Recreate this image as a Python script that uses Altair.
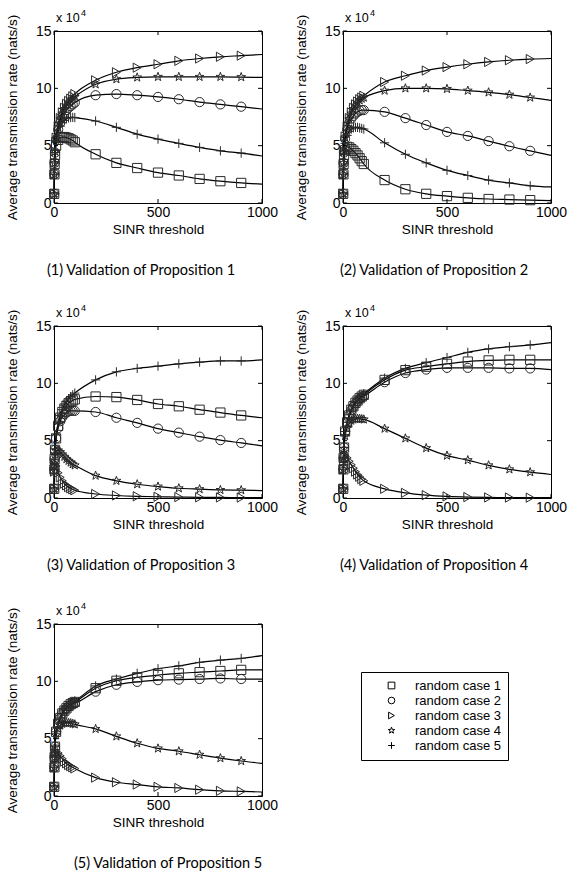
import altair as alt
import pandas as pd

# ---------------- data (values in units of 10^4 nats/s) ----------------
X = [1, 2, 3, 5, 10, 20, 30, 40, 50, 60, 70, 80, 90, 100,
     200, 300, 400, 500, 600, 700, 800, 900, 1000]

P1_C1 = [0.8, 2.5, 3.4, 4.2, 5.0, 5.5, 5.7, 5.75, 5.75, 5.7, 5.65, 5.55, 5.45, 5.3, 4.25, 3.5, 3.05, 2.65, 2.4, 2.1, 1.9, 1.75, 1.65]
P1_C2 = [0.8, 2.5, 3.5, 4.4, 5.5, 6.4, 7.0, 7.5, 7.85, 8.1, 8.3, 8.45, 8.6, 8.75, 9.4, 9.5, 9.4, 9.25, 9.05, 8.8, 8.6, 8.4, 8.2]
P1_C3 = [0.8, 2.5, 3.5, 4.5, 5.7, 6.7, 7.4, 7.9, 8.3, 8.65, 8.9, 9.1, 9.3, 9.5, 10.7, 11.4, 11.8, 12.1, 12.4, 12.6, 12.75, 12.85, 12.95]
P1_C4 = [0.8, 2.5, 3.5, 4.5, 5.6, 6.6, 7.3, 7.8, 8.2, 8.5, 8.75, 8.95, 9.1, 9.25, 10.35, 10.8, 10.95, 11.0, 11.0, 11.0, 11.0, 10.98, 10.95]
P1_C5 = [0.8, 2.5, 3.5, 4.4, 5.4, 6.2, 6.7, 7.0, 7.2, 7.35, 7.42, 7.46, 7.47, 7.45, 7.15, 6.6, 6.0, 5.57, 5.2, 4.85, 4.55, 4.35, 4.1]

P2_C1 = [0.8, 2.5, 3.4, 4.2, 4.6, 4.9, 4.85, 4.7, 4.55, 4.35, 4.15, 3.9, 3.65, 3.4, 2.0, 1.2, 0.8, 0.6, 0.45, 0.35, 0.3, 0.25, 0.2]
P2_C2 = [0.8, 2.5, 3.5, 4.4, 5.6, 6.4, 6.95, 7.35, 7.6, 7.8, 7.95, 8.05, 8.1, 8.1, 7.95, 7.4, 6.8, 6.2, 5.85, 5.4, 4.95, 4.55, 4.15]
P2_C3 = [0.8, 2.5, 3.5, 4.5, 5.8, 6.7, 7.4, 7.9, 8.3, 8.6, 8.85, 9.05, 9.2, 9.35, 10.55, 11.1, 11.55, 11.85, 12.1, 12.3, 12.45, 12.55, 12.6]
P2_C4 = [0.8, 2.5, 3.5, 4.5, 5.7, 6.6, 7.3, 7.8, 8.2, 8.5, 8.75, 8.95, 9.1, 9.2, 9.8, 10.0, 10.0, 9.95, 9.8, 9.65, 9.45, 9.2, 8.95]
P2_C5 = [0.8, 2.5, 3.4, 4.3, 5.2, 5.9, 6.25, 6.45, 6.55, 6.6, 6.6, 6.55, 6.5, 6.45, 5.25, 4.25, 3.5, 2.85, 2.4, 2.0, 1.75, 1.5, 1.4]

P3_C1 = [0.8, 2.5, 3.4, 4.2, 5.2, 6.3, 7.0, 7.5, 7.8, 8.05, 8.25, 8.4, 8.5, 8.6, 8.85, 8.8, 8.55, 8.2, 8.0, 7.7, 7.45, 7.2, 7.0]
P3_C2 = [0.8, 2.5, 3.4, 4.2, 5.2, 6.1, 6.7, 7.05, 7.3, 7.45, 7.55, 7.6, 7.6, 7.6, 7.5, 7.0, 6.55, 6.05, 5.7, 5.35, 5.05, 4.8, 4.55]
P3_C3 = [0.8, 2.3, 2.8, 3.0, 2.8, 2.2, 1.8, 1.5, 1.25, 1.1, 0.95, 0.85, 0.75, 0.68, 0.35, 0.22, 0.15, 0.11, 0.08, 0.06, 0.05, 0.04, 0.04]
P3_C4 = [0.8, 2.4, 3.2, 3.8, 4.1, 4.15, 4.0, 3.8, 3.6, 3.4, 3.25, 3.1, 2.95, 2.85, 1.95, 1.5, 1.2, 1.0, 0.85, 0.77, 0.7, 0.68, 0.65]
P3_C5 = [0.8, 2.5, 3.4, 4.3, 5.5, 6.5, 7.2, 7.7, 8.1, 8.4, 8.65, 8.85, 9.0, 9.15, 10.3, 11.0, 11.3, 11.5, 11.7, 11.85, 11.95, 11.95, 12.05]

P4_C1 = [0.8, 2.5, 3.5, 4.4, 5.8, 6.6, 7.2, 7.7, 8.0, 8.3, 8.5, 8.7, 8.85, 9.0, 10.3, 11.15, 11.45, 11.7, 11.9, 12.0, 12.05, 12.05, 12.05]
P4_C2 = [0.8, 2.5, 3.5, 4.4, 5.8, 6.6, 7.2, 7.65, 7.95, 8.25, 8.45, 8.65, 8.8, 8.9, 10.1, 10.9, 11.2, 11.35, 11.35, 11.35, 11.3, 11.3, 11.2]
P4_C3 = [0.8, 2.5, 3.2, 3.6, 3.7, 3.5, 3.2, 2.9, 2.6, 2.3, 2.05, 1.85, 1.65, 1.5, 0.8, 0.45, 0.25, 0.14, 0.08, 0.05, 0.04, 0.03, 0.03]
P4_C4 = [0.8, 2.5, 3.4, 4.3, 5.4, 6.1, 6.5, 6.75, 6.85, 6.9, 6.92, 6.9, 6.88, 6.85, 6.05, 5.2, 4.35, 3.7, 3.3, 2.85, 2.5, 2.25, 2.05]
P4_C5 = [0.8, 2.5, 3.5, 4.4, 5.8, 6.6, 7.25, 7.75, 8.05, 8.35, 8.55, 8.75, 8.95, 9.1, 10.45, 11.3, 11.8, 12.25, 12.7, 13.0, 13.2, 13.35, 13.55]

P5_C1 = [0.8, 2.5, 3.4, 4.3, 5.6, 6.3, 6.8, 7.2, 7.45, 7.65, 7.85, 8.0, 8.1, 8.2, 9.4, 10.05, 10.35, 10.55, 10.7, 10.8, 10.9, 11.0, 11.0]
P5_C2 = [0.8, 2.5, 3.4, 4.3, 5.6, 6.3, 6.8, 7.2, 7.45, 7.65, 7.8, 7.95, 8.05, 8.1, 9.1, 9.7, 9.95, 10.1, 10.15, 10.2, 10.25, 10.2, 10.2]
P5_C3 = [0.8, 2.5, 3.3, 3.7, 3.85, 3.75, 3.5, 3.25, 3.0, 2.85, 2.7, 2.6, 2.5, 2.4, 1.6, 1.2, 1.0, 0.8, 0.7, 0.55, 0.45, 0.4, 0.35]
P5_C4 = [0.8, 2.5, 3.4, 4.3, 5.3, 5.9, 6.15, 6.3, 6.35, 6.38, 6.38, 6.35, 6.3, 6.25, 5.85, 5.2, 4.6, 4.15, 3.9, 3.6, 3.3, 3.05, 2.85]
P5_C5 = [0.8, 2.5, 3.4, 4.3, 5.6, 6.3, 6.8, 7.2, 7.5, 7.7, 7.9, 8.05, 8.2, 8.3, 9.6, 10.2, 10.7, 11.1, 11.35, 11.65, 11.85, 12.0, 12.25]

CASES = ["random case 1", "random case 2", "random case 3", "random case 4", "random case 5"]
CAPTIONS = ["(1) Validation of Proposition 1", "(2) Validation of Proposition 2",
            "(3) Validation of Proposition 3", "(4) Validation of Proposition 4",
            "(5) Validation of Proposition 5"]
XTICKS = [0, 500, 1000]
YTICKS = [0, 5, 10, 15]

STAR = ("M0,-1L0.235,-0.324L0.951,-0.309L0.38,0.124L0.588,0.809L0,0.4"
        "L-0.588,0.809L-0.38,0.124L-0.951,-0.309L-0.235,-0.324Z")
PLUS = "M-1,0L1,0M0,-1L0,1"
SHAPES = ["square", "circle", "triangle-right", STAR, PLUS]

FONT = "Liberation Sans"
CAP_FONT = "Lato"
W, H = 208, 172

LEGEND = alt.Legend(orient="none", legendX=307, legendY=641, title=None,
                    strokeColor="black", fillColor="white", padding=7,
                    labelFont=FONT, labelFontSize=13, labelColor="black",
                    symbolSize=45, symbolStrokeWidth=1, symbolStrokeColor="black",
                    symbolOffset=17, labelOffset=17, rowPadding=1)


def make_df(series):
    rows = []
    for case, vals in zip(CASES, series):
        for x, y in zip(X, vals):
            rows.append({"x": x, "y": y, "case": case})
    return pd.DataFrame(rows)


def panel(series, caption, dx):
    df = make_df(series)
    xs = alt.Scale(domain=[0, 1000], nice=False, zero=False)
    ys = alt.Scale(domain=[0, 15], nice=False)
    xenc = alt.X("x:Q", scale=xs, title="SINR threshold",
                 axis=alt.Axis(values=XTICKS, format="d"))
    yenc = alt.Y("y:Q", scale=ys, title="Average transmission rate (nats/s)",
                 axis=alt.Axis(values=YTICKS))

    lines = alt.Chart(df).mark_line(interpolate="monotone", color="black", strokeWidth=1.2).encode(
        x=xenc, y=yenc, detail="case:N")

    pts = alt.Chart(df).transform_filter("datum.x < 1000").mark_point(
        filled=False, color="#2a2a2a", size=85, strokeWidth=1, opacity=1).encode(
        x=xenc, y=yenc,
        shape=alt.Shape("case:N", scale=alt.Scale(domain=CASES, range=SHAPES), legend=LEGEND))

    xt = pd.DataFrame({"x": XTICKS})
    yt = pd.DataFrame({"y": YTICKS})
    bt = alt.Chart(xt).mark_rule(color="black").encode(
        x=xenc, y=alt.value(H), y2=alt.value(H - 4))
    tt = alt.Chart(xt).mark_rule(color="black").encode(
        x=xenc, y=alt.value(0), y2=alt.value(4))
    lt = alt.Chart(yt).mark_rule(color="black").encode(
        y=yenc, x=alt.value(0), x2=alt.value(4))
    rt = alt.Chart(yt).mark_rule(color="black").encode(
        y=yenc, x=alt.value(W), x2=alt.value(W - 4))

    e1 = alt.Chart(pd.DataFrame({"t": ["x 10"]})).mark_text(
        align="left", baseline="alphabetic", fontSize=12.5, font=FONT, color="black").encode(
        text="t:N", x=alt.value(2), y=alt.value(-9))
    e2 = alt.Chart(pd.DataFrame({"t": ["4"]})).mark_text(
        align="left", baseline="alphabetic", fontSize=9, font=FONT, color="black").encode(
        text="t:N", x=alt.value(27), y=alt.value(-15))

    return alt.layer(lines, pts, bt, tt, lt, rt, e1, e2).properties(
        width=W, height=H,
        title=alt.TitleParams(caption, orient="bottom", font=CAP_FONT, fontSize=14.5,
                              fontWeight="normal", color="black", offset=28, dx=dx,
                              anchor="middle"))


p1 = panel([P1_C1, P1_C2, P1_C3, P1_C4, P1_C5], CAPTIONS[0], -17)
p2 = panel([P2_C1, P2_C2, P2_C3, P2_C4, P2_C5], CAPTIONS[1], -13)
p3 = panel([P3_C1, P3_C2, P3_C3, P3_C4, P3_C5], CAPTIONS[2], -17)
p4 = panel([P4_C1, P4_C2, P4_C3, P4_C4, P4_C5], CAPTIONS[3], -13)
p5 = panel([P5_C1, P5_C2, P5_C3, P5_C4, P5_C5], CAPTIONS[4], 10)

top_rows = alt.vconcat(
    alt.hconcat(p1, p2, spacing=14),
    alt.hconcat(p3, p4, spacing=14),
    spacing=25,
)

chart = alt.vconcat(
    top_rows,
    p5,
    spacing=28,
).properties(
    padding={"left": 4, "top": 8, "right": 0, "bottom": 0},
    background="white",
).configure_view(
    stroke="black", strokeWidth=1
).configure_axis(
    grid=False, domain=False, ticks=False, labelPadding=3, labelFlush=False,
    labelFont=FONT, labelFontSize=14, labelColor="black",
    titleFont=FONT, titleFontSize=13.5, titleFontWeight="normal", titleColor="black",
).configure_axisX(titlePadding=3, labelPadding=2).configure_axisY(titlePadding=16)

chart.save("out.html", embed_options={"renderer": "svg", "actions": False})
